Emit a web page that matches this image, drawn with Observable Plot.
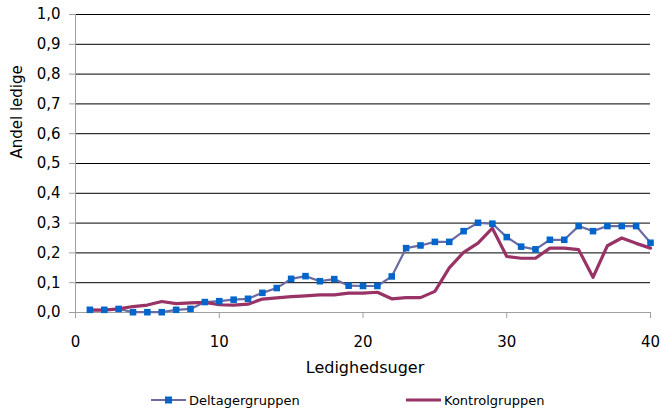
<!DOCTYPE html>
<html><head><meta charset="utf-8">
<script src="https://cdn.jsdelivr.net/npm/d3@7"></script>
<script src="https://cdn.jsdelivr.net/npm/@observablehq/plot@0.6"></script>
<style>
body{margin:0;background:#fff;font-family:"DejaVu Sans",sans-serif;}
#chart{position:relative;width:661px;height:413px;overflow:hidden;background:#fff;}
#legend{position:absolute;left:0;top:386px;width:661px;height:28px;font-size:13px;color:#000;}
.item{position:absolute;top:0;height:28px;display:flex;align-items:center;}
.item svg{display:block;margin-right:2px;}
</style></head><body><div id="chart"></div><script>
const seriesNames = ["Deltagergruppen", "Kontrolgruppen"];
const weeks = [1,2,3,4,5,6,7,8,9,10,11,12,13,14,15,16,17,18,19,20,21,22,23,24,25,26,27,28,29,30,31,32,33,34,35,36,37,38,39,40];
const deltager = [0.009,0.009,0.012,0.001,0.001,0.001,0.009,0.012,0.035,0.038,0.043,0.046,0.066,0.082,0.113,0.122,0.105,0.112,0.090,0.089,0.089,0.121,0.216,0.225,0.237,0.237,0.273,0.301,0.298,0.253,0.221,0.212,0.244,0.244,0.290,0.273,0.290,0.290,0.290,0.234];
const kontrol = [0.008,0.008,0.012,0.020,0.025,0.037,0.030,0.032,0.034,0.026,0.025,0.028,0.045,0.049,0.053,0.056,0.059,0.059,0.065,0.065,0.068,0.046,0.050,0.050,0.071,0.150,0.202,0.233,0.283,0.188,0.182,0.182,0.216,0.216,0.211,0.118,0.224,0.250,0.232,0.216];
const xTicks = [0,10,20,30,40];
const yTicks = [0,0.1,0.2,0.3,0.4,0.5,0.6,0.7,0.8,0.9,1.0];
const xTitle = "Ledighedsuger";
const yTitle = "Andel ledige";

const lineColors = ["#6b6ba3", "#993366"];
const markerColor = "#0066cc";

const dData = weeks.map((w,i)=>({week:w, value:deltager[i]}));
const kData = weeks.map((w,i)=>({week:w, value:kontrol[i]}));
const fmt = d => d3.format(".1f")(d).replace(".", ",");

const chart = Plot.plot({
  width:661, height:385,
  marginTop:14, marginLeft:75, marginRight:11, marginBottom:73,
  style:{fontFamily:"DejaVu Sans", fontSize:"15px", color:"#000", background:"#fff"},
  x:{domain:[0,40]},
  y:{domain:[0,1]},
  marks:[
    Plot.gridY(yTicks.filter(d=>d>0), {stroke:"#000", strokeOpacity:1}),
    Plot.ruleY([0], {stroke:"#a0a0a0"}),
    Plot.ruleX([0], {stroke:"#a0a0a0"}),
    Plot.axisY(yTicks, {tickSize:6, tickPadding:9, stroke:"#a0a0a0", fill:"#000", tickFormat:fmt, label:null}),
    Plot.axisX(xTicks, {tickSize:6, tickPadding:18, stroke:"#a0a0a0", fill:"#000", tickFormat:d=>String(d), label:null}),
    Plot.text([yTitle], {text:d=>d, frameAnchor:"left", dx:-58, dy:-5, rotate:-90, fontSize:15, lineAnchor:"middle"}),
    Plot.text([xTitle], {text:d=>d, frameAnchor:"bottom", dx:2, dy:55, fontSize:16, lineAnchor:"middle"}),
    Plot.line(dData, {x:"week", y:"value", stroke:lineColors[0], strokeWidth:2.2}),
    Plot.line(kData, {x:"week", y:"value", stroke:lineColors[1], strokeWidth:3.2}),
    Plot.dot(dData, {x:"week", y:"value", symbol:"square", r:3.7, fill:markerColor, stroke:null})
  ]
});
const root = document.getElementById("chart");
root.appendChild(chart);

// legend
const legend = document.createElement("div");
legend.id = "legend";
const lefts = [151, 406];
seriesNames.forEach((name, i) => {
  const item = document.createElement("div");
  item.className = "item";
  item.style.left = lefts[i] + "px";
  const sw = d3.create("svg").attr("width", 36).attr("height", 12);
  sw.append("line").attr("x1",0).attr("x2",35).attr("y1",6).attr("y2",6)
    .attr("stroke", lineColors[i]).attr("stroke-width", i===0?2.2:3.2);
  if (i===0) sw.append("rect").attr("x",14).attr("y",2.5).attr("width",7).attr("height",7).attr("fill",markerColor);
  item.appendChild(sw.node());
  const t = document.createElement("span");
  t.textContent = name;
  item.appendChild(t);
  legend.appendChild(item);
});
root.appendChild(legend);
</script></body></html>
